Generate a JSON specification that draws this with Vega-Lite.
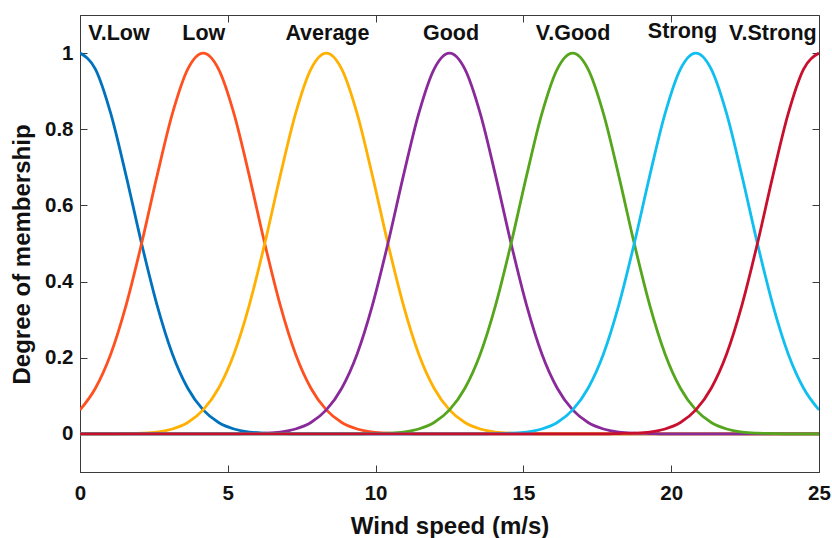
{
  "$schema": "https://vega.github.io/schema/vega-lite/v6.json",
  "width": 739,
  "height": 457,
  "autosize": {"type": "none"},
  "padding": {"left": 80, "top": 15, "right": 13, "bottom": 66},
  "background": "white",
  "config": {
    "font": "Liberation Sans",
    "view": {"stroke": "#3a3a3a", "strokeWidth": 1},
    "axis": {
      "grid": false,
      "domainColor": "#3a3a3a",
      "tickColor": "#3a3a3a",
      "tickSize": -7,
      "labelFont": "Liberation Sans",
      "labelFontSize": 20.5,
      "labelFontWeight": "bold",
      "labelColor": "#111111",
      "titleFont": "Liberation Sans",
      "titleFontSize": 24,
      "titleFontWeight": "bold",
      "titleColor": "#111111"
    }
  },
  "datasets": {
    "curves": [
      {"x": 0, "VLow": 1, "Low": 0.063, "Avg": 0, "Good": 0, "VGood": 0, "Strong": 0, "VStrong": 0},
      {"x": 0.5208, "VLow": 0.958, "Low": 0.12, "Avg": 0, "Good": 0, "VGood": 0, "Strong": 0, "VStrong": 0},
      {"x": 1.0417, "VLow": 0.841, "Low": 0.21, "Avg": 0, "Good": 0, "VGood": 0, "Strong": 0, "VStrong": 0},
      {"x": 1.5625, "VLow": 0.677, "Low": 0.339, "Avg": 0.001, "Good": 0, "VGood": 0, "Strong": 0, "VStrong": 0},
      {"x": 2.0833, "VLow": 0.5, "Low": 0.5, "Avg": 0.002, "Good": 0, "VGood": 0, "Strong": 0, "VStrong": 0},
      {"x": 2.6042, "VLow": 0.339, "Low": 0.677, "Avg": 0.005, "Good": 0, "VGood": 0, "Strong": 0, "VStrong": 0},
      {"x": 3.125, "VLow": 0.21, "Low": 0.841, "Avg": 0.013, "Good": 0, "VGood": 0, "Strong": 0, "VStrong": 0},
      {"x": 3.6458, "VLow": 0.12, "Low": 0.958, "Avg": 0.03, "Good": 0, "VGood": 0, "Strong": 0, "VStrong": 0},
      {"x": 4.1667, "VLow": 0.063, "Low": 1, "Avg": 0.063, "Good": 0, "VGood": 0, "Strong": 0, "VStrong": 0},
      {"x": 4.6875, "VLow": 0.03, "Low": 0.958, "Avg": 0.12, "Good": 0, "VGood": 0, "Strong": 0, "VStrong": 0},
      {"x": 5.2083, "VLow": 0.013, "Low": 0.841, "Avg": 0.21, "Good": 0, "VGood": 0, "Strong": 0, "VStrong": 0},
      {"x": 5.7292, "VLow": 0.005, "Low": 0.677, "Avg": 0.339, "Good": 0.001, "VGood": 0, "Strong": 0, "VStrong": 0},
      {"x": 6.25, "VLow": 0.002, "Low": 0.5, "Avg": 0.5, "Good": 0.002, "VGood": 0, "Strong": 0, "VStrong": 0},
      {"x": 6.7708, "VLow": 0.001, "Low": 0.339, "Avg": 0.677, "Good": 0.005, "VGood": 0, "Strong": 0, "VStrong": 0},
      {"x": 7.2917, "VLow": 0, "Low": 0.21, "Avg": 0.841, "Good": 0.013, "VGood": 0, "Strong": 0, "VStrong": 0},
      {"x": 7.8125, "VLow": 0, "Low": 0.12, "Avg": 0.958, "Good": 0.03, "VGood": 0, "Strong": 0, "VStrong": 0},
      {"x": 8.3333, "VLow": 0, "Low": 0.063, "Avg": 1, "Good": 0.063, "VGood": 0, "Strong": 0, "VStrong": 0},
      {"x": 8.8542, "VLow": 0, "Low": 0.03, "Avg": 0.958, "Good": 0.12, "VGood": 0, "Strong": 0, "VStrong": 0},
      {"x": 9.375, "VLow": 0, "Low": 0.013, "Avg": 0.841, "Good": 0.21, "VGood": 0, "Strong": 0, "VStrong": 0},
      {"x": 9.8958, "VLow": 0, "Low": 0.005, "Avg": 0.677, "Good": 0.339, "VGood": 0.001, "Strong": 0, "VStrong": 0},
      {"x": 10.4167, "VLow": 0, "Low": 0.002, "Avg": 0.5, "Good": 0.5, "VGood": 0.002, "Strong": 0, "VStrong": 0},
      {"x": 10.9375, "VLow": 0, "Low": 0.001, "Avg": 0.339, "Good": 0.677, "VGood": 0.005, "Strong": 0, "VStrong": 0},
      {"x": 11.4583, "VLow": 0, "Low": 0, "Avg": 0.21, "Good": 0.841, "VGood": 0.013, "Strong": 0, "VStrong": 0},
      {"x": 11.9792, "VLow": 0, "Low": 0, "Avg": 0.12, "Good": 0.958, "VGood": 0.03, "Strong": 0, "VStrong": 0},
      {"x": 12.5, "VLow": 0, "Low": 0, "Avg": 0.063, "Good": 1, "VGood": 0.063, "Strong": 0, "VStrong": 0},
      {"x": 13.0208, "VLow": 0, "Low": 0, "Avg": 0.03, "Good": 0.958, "VGood": 0.12, "Strong": 0, "VStrong": 0},
      {"x": 13.5417, "VLow": 0, "Low": 0, "Avg": 0.013, "Good": 0.841, "VGood": 0.21, "Strong": 0, "VStrong": 0},
      {"x": 14.0625, "VLow": 0, "Low": 0, "Avg": 0.005, "Good": 0.677, "VGood": 0.339, "Strong": 0.001, "VStrong": 0},
      {"x": 14.5833, "VLow": 0, "Low": 0, "Avg": 0.002, "Good": 0.5, "VGood": 0.5, "Strong": 0.002, "VStrong": 0},
      {"x": 15.1042, "VLow": 0, "Low": 0, "Avg": 0.001, "Good": 0.339, "VGood": 0.677, "Strong": 0.005, "VStrong": 0},
      {"x": 15.625, "VLow": 0, "Low": 0, "Avg": 0, "Good": 0.21, "VGood": 0.841, "Strong": 0.013, "VStrong": 0},
      {"x": 16.1458, "VLow": 0, "Low": 0, "Avg": 0, "Good": 0.12, "VGood": 0.958, "Strong": 0.03, "VStrong": 0},
      {"x": 16.6667, "VLow": 0, "Low": 0, "Avg": 0, "Good": 0.063, "VGood": 1, "Strong": 0.063, "VStrong": 0},
      {"x": 17.1875, "VLow": 0, "Low": 0, "Avg": 0, "Good": 0.03, "VGood": 0.958, "Strong": 0.12, "VStrong": 0},
      {"x": 17.7083, "VLow": 0, "Low": 0, "Avg": 0, "Good": 0.013, "VGood": 0.841, "Strong": 0.21, "VStrong": 0},
      {"x": 18.2292, "VLow": 0, "Low": 0, "Avg": 0, "Good": 0.005, "VGood": 0.677, "Strong": 0.339, "VStrong": 0.001},
      {"x": 18.75, "VLow": 0, "Low": 0, "Avg": 0, "Good": 0.002, "VGood": 0.5, "Strong": 0.5, "VStrong": 0.002},
      {"x": 19.2708, "VLow": 0, "Low": 0, "Avg": 0, "Good": 0.001, "VGood": 0.339, "Strong": 0.677, "VStrong": 0.005},
      {"x": 19.7917, "VLow": 0, "Low": 0, "Avg": 0, "Good": 0, "VGood": 0.21, "Strong": 0.841, "VStrong": 0.013},
      {"x": 20.3125, "VLow": 0, "Low": 0, "Avg": 0, "Good": 0, "VGood": 0.12, "Strong": 0.958, "VStrong": 0.03},
      {"x": 20.8333, "VLow": 0, "Low": 0, "Avg": 0, "Good": 0, "VGood": 0.063, "Strong": 1, "VStrong": 0.063},
      {"x": 21.3542, "VLow": 0, "Low": 0, "Avg": 0, "Good": 0, "VGood": 0.03, "Strong": 0.958, "VStrong": 0.12},
      {"x": 21.875, "VLow": 0, "Low": 0, "Avg": 0, "Good": 0, "VGood": 0.013, "Strong": 0.841, "VStrong": 0.21},
      {"x": 22.3958, "VLow": 0, "Low": 0, "Avg": 0, "Good": 0, "VGood": 0.005, "Strong": 0.677, "VStrong": 0.339},
      {"x": 22.9167, "VLow": 0, "Low": 0, "Avg": 0, "Good": 0, "VGood": 0.002, "Strong": 0.5, "VStrong": 0.5},
      {"x": 23.4375, "VLow": 0, "Low": 0, "Avg": 0, "Good": 0, "VGood": 0.001, "Strong": 0.339, "VStrong": 0.677},
      {"x": 23.9583, "VLow": 0, "Low": 0, "Avg": 0, "Good": 0, "VGood": 0, "Strong": 0.21, "VStrong": 0.841},
      {"x": 24.4792, "VLow": 0, "Low": 0, "Avg": 0, "Good": 0, "VGood": 0, "Strong": 0.12, "VStrong": 0.958},
      {"x": 25, "VLow": 0, "Low": 0, "Avg": 0, "Good": 0, "VGood": 0, "Strong": 0.063, "VStrong": 1}
    ],
    "labels": [
      {"label": "V.Low", "x": 1.32, "y": 1.051},
      {"label": "Low", "x": 4.19, "y": 1.051},
      {"label": "Average", "x": 8.37, "y": 1.051},
      {"label": "Good", "x": 12.55, "y": 1.051},
      {"label": "V.Good", "x": 16.68, "y": 1.051},
      {"label": "Strong", "x": 20.38, "y": 1.055},
      {"label": "V.Strong", "x": 23.44, "y": 1.051}
    ]
  },
  "layer": [
    {
      "data": {"name": "curves"},
      "transform": [
        {"fold": ["VLow", "Low", "Avg", "Good", "VGood", "Strong", "VStrong"], "as": ["series", "value"]}
      ],
      "mark": {"type": "line", "interpolate": "monotone", "strokeWidth": 2.8, "clip": true},
      "encoding": {
        "x": {
          "field": "x",
          "type": "quantitative",
          "scale": {"domain": [0, 25], "nice": false, "zero": false},
          "axis": {
            "orient": "bottom",
            "values": [0, 5, 10, 15, 20, 25],
            "labelFlush": false,
            "labelPadding": 18,
            "title": "Wind speed (m/s)",
            "titlePadding": 11
          }
        },
        "y": {
          "field": "value",
          "type": "quantitative",
          "scale": {"domain": [-0.1, 1.1], "nice": false, "zero": false},
          "axis": {
            "orient": "left",
            "values": [0, 0.2, 0.4, 0.6, 0.8, 1],
            "format": "~g",
            "labelFlush": false,
            "labelPadding": 14,
            "title": "Degree of membership",
            "titlePadding": 10,
            "titleY": 239
          }
        },
        "color": {
          "field": "series",
          "type": "nominal",
          "scale": {
            "domain": ["VLow", "Low", "Avg", "Good", "VGood", "Strong", "VStrong"],
            "range": ["#0072BD", "#FF5020", "#FFB000", "#8A2A9A", "#55A61C", "#10BFEF", "#C8102E"]
          },
          "legend": null
        }
      }
    },
    {
      "data": {"name": "labels"},
      "mark": {"type": "text", "font": "Liberation Sans", "fontSize": 21.5, "fontWeight": "bold", "color": "#111111", "baseline": "middle", "align": "center"},
      "encoding": {
        "x": {
          "field": "x",
          "type": "quantitative",
          "axis": {"orient": "top", "values": [0, 5, 10, 15, 20, 25], "labels": false, "title": null, "domain": false}
        },
        "y": {
          "field": "y",
          "type": "quantitative",
          "axis": {"orient": "right", "values": [0, 0.2, 0.4, 0.6, 0.8, 1], "labels": false, "title": null, "domain": false}
        },
        "text": {"field": "label"}
      }
    }
  ],
  "resolve": {"axis": {"x": "independent", "y": "independent"}}
}
